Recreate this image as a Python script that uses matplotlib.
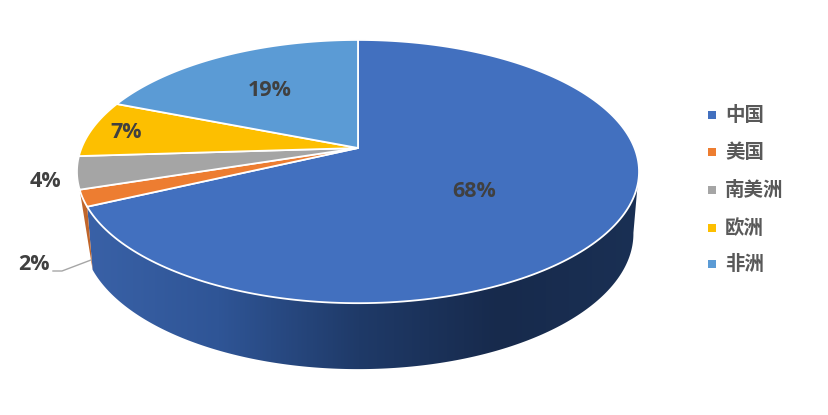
import numpy as np
import matplotlib
matplotlib.use('Agg')
import matplotlib.pyplot as plt
from matplotlib.patches import Rectangle, Polygon
from matplotlib.colors import LinearSegmentedColormap

plt.rcParams['font.family'] = ['Noto Sans CJK SC', 'DejaVu Sans']

labels = ['中国', '美国', '南美洲', '欧洲', '非洲']
values = [68, 2, 4, 7, 19]
pct_labels = ['68%', '2%', '4%', '7%', '19%']
colors = ['#4270bf', '#ed7d31', '#a5a5a5', '#fdbf00', '#5b9bd5']

W, H = 829, 415
fig = plt.figure(figsize=(W / 100, H / 100), dpi=100)
ax = fig.add_axes([0, 0, 1, 1])
ax.set_xlim(0, W)
ax.set_ylim(H, 0)
ax.axis('off')

# apex of the pie and perspective of the tilted disc
cx, cy = 358, 148
sx, sy, k = 276.5, 127.4, 0.179


def top_pts(a0, a1, n=200):
    # clockwise from 12 o'clock, in degrees
    t = np.radians(np.linspace(a0, a1, n))
    u, v = np.sin(t), np.cos(t)
    w = 1 + k * v
    return cx + sx * u / w, cy - sy * v / w


def bottom_pts(a0, a1, n=200):
    x, y = top_pts(a0, a1, n)
    ex, ey = cx, 171.5
    return ex + (x - ex) * 0.98, ey + 62 + (y - ey) * 1.03


# wall runs round the front, from the right side to the 美国 slice
a_start = 106
a_bottom_start = 100
a_main_end = sum(values[:1]) * 3.6
a_us_end = a_main_end + values[1] * 3.6

x0, y0 = top_pts(a_start, a_main_end)
x1, y1 = bottom_pts(a_bottom_start, a_main_end)
wall = Polygon(np.r_[np.c_[x0, y0], np.c_[x1[::-1], y1[::-1]]], closed=True, fc='none', ec='none')
ax.add_patch(wall)
side_cmap = LinearSegmentedColormap.from_list('side', ['#3a62a8', '#2f5596', '#1f3a68', '#172a4c', '#1a3054'])
grad = np.linspace(0, 1, 256).reshape(1, -1)
im = ax.imshow(grad, cmap=side_cmap, extent=[78, 640, H, 0], aspect='auto', zorder=1)
im.set_clip_path(wall)
ax.set_xlim(0, W)
ax.set_ylim(H, 0)

# orange sliver of wall
x0, y0 = top_pts(a_main_end, a_us_end, 30)
x1, y1 = bottom_pts(a_main_end, a_main_end + 1, 4)
ax.add_patch(Polygon(np.r_[np.c_[x0, y0], [[81, 198]], [[x1[0], y1[0]]]], closed=True,
                     fc='#c0652a', ec='none', zorder=1))

# top face
angle = 0
for v, c in zip(values, colors):
    a1 = angle + v * 3.6
    x, y = top_pts(angle, a1)
    ax.add_patch(Polygon(np.r_[[[cx, cy]], np.c_[x, y]], closed=True, fc=c, ec='white', lw=1.3,
                         joinstyle='round', zorder=2))
    angle = a1

# percent labels
label_pos = [(474, 191), (34, 264), (45, 181), (126, 132), (270, 91)]
for s, (x, y) in zip(pct_labels, label_pos):
    ax.text(x, y, s, ha='center', va='center', fontsize=15.5, fontweight='bold',
            family=['Open Sans', 'DejaVu Sans'], color='#404040', zorder=4)

# leader line for 2%
ax.plot([53, 62, 91], [271, 271, 260], color='#a6a6a6', lw=1, zorder=3)

# legend
leg_y = [115, 152, 190, 228, 264]
for s, c, y in zip(labels, colors, leg_y):
    ax.add_patch(Rectangle((708, y - 4), 8, 8, fc=c, ec='none', zorder=3))
    ax.text(725, y, s, ha='left', va='center', fontsize=14, fontweight='bold', color='#595959')

fig.savefig('out.png', dpi=100)
